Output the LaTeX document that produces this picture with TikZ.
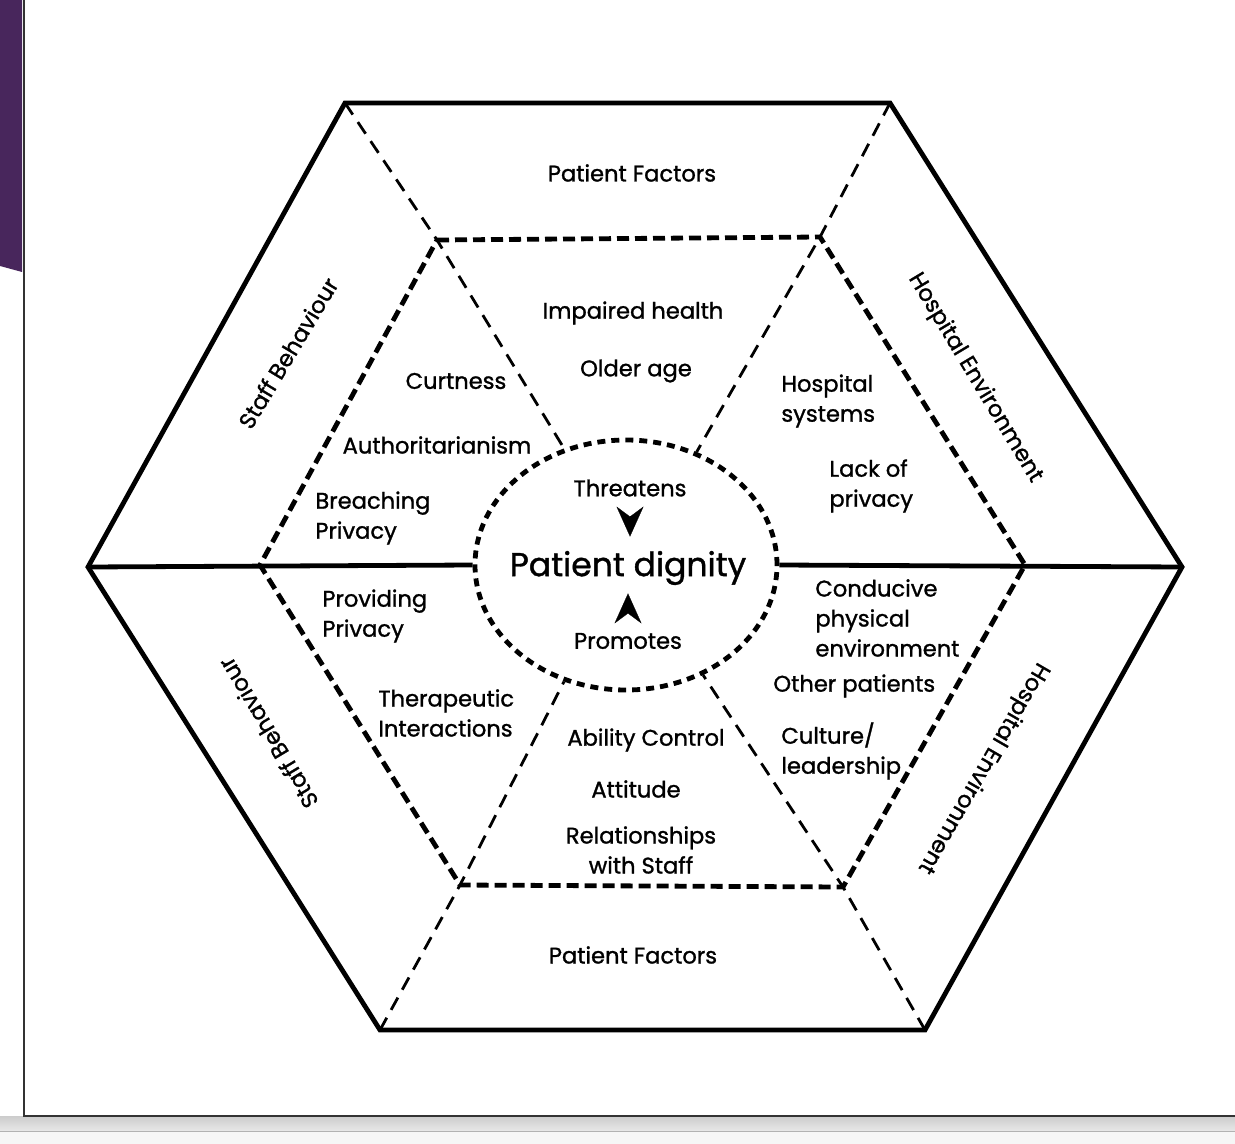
\documentclass[tikz,border=0pt]{standalone}
\usepackage{fontspec}
\setmainfont{Poppins}[FakeBold=1.2]
\usepackage{xcolor}
\usepackage{tikz}
\usetikzlibrary{shapes, arrows.meta, positioning, calc}
\definecolor{slidepurple}{RGB}{72,38,92}

\begin{document}
\begin{tikzpicture}[
    x=0.5pt, y=-0.5pt,
    factor/.style={font=\fontsize{11.3}{15}\selectfont, inner sep=0pt},
    listing/.style={factor, align=left, anchor=west},
    sector/.style={font=\fontsize{11.3}{15}\selectfont, inner sep=0pt},
    core/.style={font=\fontsize{16.5}{18}\selectfont, inner sep=0pt},
    rim/.style={line width=2.4pt, line join=miter},
    ring/.style={line width=2.4pt, dash pattern=on 6pt off 3pt},
    spoke/.style={line width=1.4pt, dash pattern=on 7pt off 4.5pt},
    halo/.style={ellipse, draw, line width=2.4pt, dash pattern=on 4pt off 3pt, inner sep=0pt},
    head/.style={-{Stealth[length=15pt, width=13.5pt, inset=5pt]}, line width=0.1pt},
]
    % slide frame
    \useasboundingbox (0,0) rectangle (1235,1144);
    \fill[slidepurple] (0,0) -- (22,0) -- (22,272) -- (0,266) -- cycle;
    \shade[top color=gray!40, bottom color=gray!18] (0,1116) rectangle (1235,1131);
    \fill[gray!7] (0,1131) rectangle (1235,1144);
    \draw[gray!60, line width=0.4pt] (0,1131) -- (1235,1131);
    \draw[black!80, line width=1pt] (24,0) -- (24,1116) -- (1235,1116);

    % hexagon corners
    \coordinate (o1) at (345,103);
    \coordinate (o2) at (890,103);
    \coordinate (o3) at (1182,567);
    \coordinate (o4) at (925,1030);
    \coordinate (o5) at (380,1030);
    \coordinate (o6) at (88,567);
    \coordinate (i1) at (437,240);
    \coordinate (i2) at (820,237);
    \coordinate (i3) at (1025,565);
    \coordinate (i4) at (843,887);
    \coordinate (i5) at (460,885);
    \coordinate (i6) at (260,565);

    \node[halo, minimum width=151pt, minimum height=125pt] (halo) at (626,565) {};

    \draw[rim] (o1) -- (o2) -- (o3) -- (o4) -- (o5) -- (o6) -- cycle;
    \draw[ring] (i1) -- (i2) -- (i3) -- (i4) -- (i5) -- (i6) -- cycle;
    \draw[rim] (o6) -- (halo.west);
    \draw[rim] (halo.east) -- (o3);
    \draw[spoke] (o1) -- (i1) -- (halo.118);
    \draw[spoke] (o2) -- (i2) -- (halo.58);
    \draw[spoke] (o5) -- (i5) -- (halo.242);
    \draw[spoke] (o4) -- (i4) -- (halo.305);

    % outer sectors
    \node[sector] (pftop) at (632,173) {Patient Factors};
    \node[sector] (pfbot) at (633,955) {Patient Factors};
    \node[sector, rotate=59] (sbtop) at (288,353) {Staff Behaviour};
    \node[sector, rotate=121] (sbbot) at (268,733) {Staff Behaviour};
    \node[sector, rotate=-59] (hetop) at (975,378) {Hospital Environment};
    \node[sector, rotate=240] (hebot) at (983,768) {Hospital Environment};

    % threatening factors
    \node[factor] (health) at (633,313) {Impaired health};
    \node[factor] (age) at (636,371) {Older age};
    \node[factor] (curt) at (456,381) {Curtness};
    \node[factor] (auth) at (437,445) {Authoritarianism};
    \node[listing] (breach) at (315,518) {Breaching\\Privacy};
    \node[listing] (systems) at (781,401) {Hospital\\systems};
    \node[listing] (lack) at (829,486) {Lack of\\privacy};

    % promoting factors
    \node[listing] (provide) at (322,616) {Providing\\Privacy};
    \node[listing] (therapy) at (378,713) {Therapeutic\\Interactions};
    \node[listing] (conducive) at (815,618) {Conducive\\physical\\environment};
    \node[listing] (others) at (773,686) {Other patients};
    \node[listing] (culture) at (781,751) {Culture/\\leadership};
    \node[factor] (ability) at (646,740) {Ability Control};
    \node[factor] (attitude) at (636,789) {Attitude};
    \node[factor, align=center] (relation) at (641,850) {Relationships\\with Staff};

    % centre
    \node[factor] (threat) at (630,488) {Threatens};
    \node[core] (dignity) at (628,568) {Patient dignity};
    \node[factor] (promote) at (628,641) {Promotes};
    \draw[head, shorten <=9.5pt, shorten >=7pt] (threat.south) -- (threat.south |- dignity.north);
    \draw[head, shorten <=11pt, shorten >=4pt] (promote.north) -- (promote.north |- dignity.south);
\end{tikzpicture}
\end{document}
